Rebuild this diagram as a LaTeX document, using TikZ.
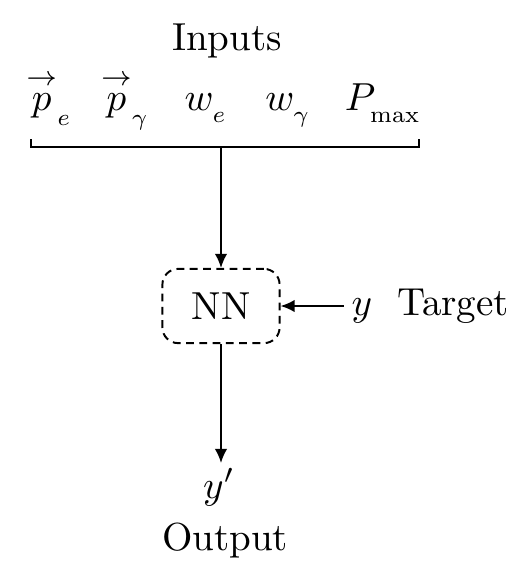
\documentclass[tikz,border=0pt]{standalone}
\usepackage{graphicx}
\usepackage{amsmath}
\usetikzlibrary{arrows.meta}
\newcommand{\lsb}[1]{_{\lower1.6pt\hbox{\scalebox{0.85}{$\scriptstyle #1$}}}}
\newcommand{\arrp}{\overset{\rightarrow}{p}}
\begin{document}
\begin{tikzpicture}[x=0.256pt,y=-0.256pt,
  lbl/.style={anchor=base,inner sep=0pt,outer sep=0pt},
  nnbox/.style={draw,dash pattern=on 2pt off 1.4pt,rounded corners=4pt,minimum width=30pt,minimum height=19pt,inner sep=0pt,line width=0.5pt},
  conn/.style={line width=0.5pt},
  arr/.style={conn,-{Latex[length=3.6pt,width=3.2pt]}}]
\useasboundingbox (0,0) rectangle (511,565);
\node[lbl] (inputs) at (227,50) {Inputs};
\node[lbl] (pe) at (49,110) {$\arrp\lsb{e}$};
\node[lbl] (pg) at (125,110) {$\arrp\lsb{\gamma}$};
\node[lbl] (we) at (206,110) {$w\lsb{e}$};
\node[lbl] (wg) at (288,110) {$w\lsb{\gamma}$};
\node[lbl] (pmax) at (383,110) {$P\lsb{\max}$};
\coordinate (bl) at (31,139);
\coordinate (br) at (419,139);
\coordinate (bml) at (31,147);
\coordinate (bmr) at (419,147);
\coordinate (bm) at (221,147);
\node[nnbox] (nn) at (221,306) {NN};
\node[lbl] (y) at (362,315) {$y$};
\node[lbl] (target) at (453,315) {Target};
\node[lbl] (yp) at (219,498) {$y'$};
\node[lbl] (output) at (225,550) {Output};
\draw[conn] (bl) -- (bml) -- (bmr) -- (br);
\draw[arr] (bm) -- (nn.north);
\draw[arr] (y.west |- nn.east) ++(-8,0) coordinate (ys) (ys) -- (nn.east);
\coordinate (yend) at (221,463);
\draw[arr] (nn.south) -- (yend);
\end{tikzpicture}
\end{document}
